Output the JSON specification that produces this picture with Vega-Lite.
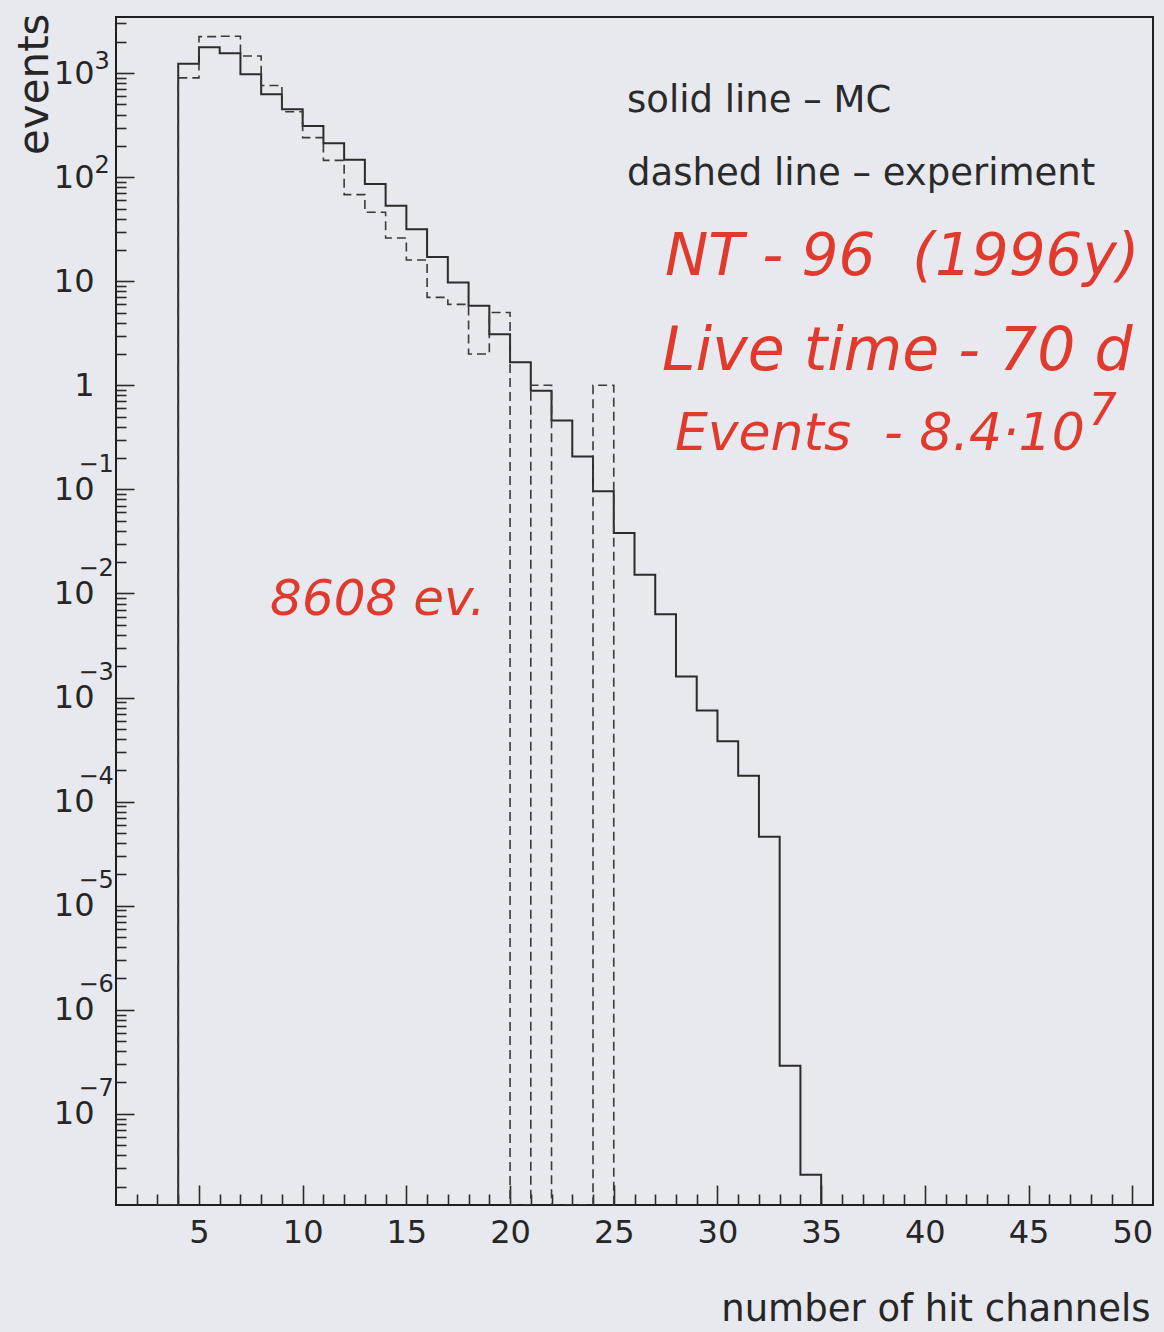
{
  "$schema": "https://vega.github.io/schema/vega-lite/v6.json",
  "width": 1037,
  "height": 1188,
  "autosize": {"type": "none"},
  "padding": {"left": 116, "top": 17, "right": 11, "bottom": 127},
  "background": "#e8e8ef",
  "config": {
    "view": {"stroke": "#1f1f1f", "strokeWidth": 2},
    "font": "DejaVu Sans",
    "axis": {
      "grid": false,
      "domain": false,
      "labelFont": "DejaVu Sans",
      "titleFont": "DejaVu Sans",
      "titleFontWeight": "normal",
      "labelColor": "#262626",
      "titleColor": "#262626",
      "tickColor": "#2a2a2a",
      "tickWidth": 1.6,
      "labelOverlap": false,
      "labelBound": false,
      "labelFlush": false
    }
  },
  "datasets": {
    "mc": [
      {"ch": 3, "events": 0},
      {"ch": 4, "events": 1230},
      {"ch": 5, "events": 1770},
      {"ch": 6, "events": 1550},
      {"ch": 7, "events": 975},
      {"ch": 8, "events": 625},
      {"ch": 9, "events": 450},
      {"ch": 10, "events": 310},
      {"ch": 11, "events": 212},
      {"ch": 12, "events": 147},
      {"ch": 13, "events": 86},
      {"ch": 14, "events": 53},
      {"ch": 15, "events": 31.6},
      {"ch": 16, "events": 17.1},
      {"ch": 17, "events": 9.7},
      {"ch": 18, "events": 5.8},
      {"ch": 19, "events": 3.1},
      {"ch": 20, "events": 1.67},
      {"ch": 21, "events": 0.885},
      {"ch": 22, "events": 0.458},
      {"ch": 23, "events": 0.207},
      {"ch": 24, "events": 0.096},
      {"ch": 25, "events": 0.038},
      {"ch": 26, "events": 0.0151},
      {"ch": 27, "events": 0.0063},
      {"ch": 28, "events": 0.00159},
      {"ch": 29, "events": 0.00075},
      {"ch": 30, "events": 0.00038},
      {"ch": 31, "events": 0.000177},
      {"ch": 32, "events": 0.000046},
      {"ch": 33, "events": 2.9e-7},
      {"ch": 34, "events": 2.6e-8},
      {"ch": 35, "events": 0}
    ],
    "experiment": [
      {"ch": 3, "events": 0},
      {"ch": 4, "events": 900},
      {"ch": 5, "events": 2240},
      {"ch": 6, "events": 2260},
      {"ch": 7, "events": 1460},
      {"ch": 8, "events": 760},
      {"ch": 9, "events": 425},
      {"ch": 10, "events": 240},
      {"ch": 11, "events": 145},
      {"ch": 12, "events": 68},
      {"ch": 13, "events": 46},
      {"ch": 14, "events": 26},
      {"ch": 15, "events": 16},
      {"ch": 16, "events": 7},
      {"ch": 17, "events": 6},
      {"ch": 18, "events": 2},
      {"ch": 19, "events": 5},
      {"ch": 20, "events": 0},
      {"ch": 21, "events": 1},
      {"ch": 22, "events": 0},
      {"ch": 23, "events": 0},
      {"ch": 24, "events": 1},
      {"ch": 25, "events": 0}
    ],
    "legendNotes": [
      {"ch": 25.64, "events": 423, "note": "solid line – MC"},
      {"ch": 25.64, "events": 84, "note": "dashed line – experiment"}
    ],
    "runNotes": [
      {"ch": 27.47, "events": 11.5, "note": "NT - 96\u00a0 (1996y)"},
      {"ch": 27.33, "events": 1.4, "note": "Live time - 70 d"},
      {"ch": 27.95, "events": 0.239, "note": "Events\u00a0 - 8.4·10"},
      {"ch": 47.9, "events": 0.42, "note": "7"}
    ],
    "countNote": [
      {"ch": 8.43, "events": 0.0062, "note": "8608 ev."}
    ]
  },
  "layer": [
    {
      "data": {"name": "mc"},
      "mark": {"type": "line", "interpolate": "step-after", "color": "#2b2b2b", "strokeWidth": 2, "clip": true},
      "encoding": {
        "x": {
          "field": "ch", "type": "quantitative",
          "scale": {"domain": [1, 51], "nice": false, "zero": false},
          "axis": {
            "orient": "bottom",
            "values": [5, 10, 15, 20, 25, 30, 35, 40, 45, 50],
            "ticks": false,
            "labelFontSize": 32,
            "labelPadding": 12,
            "labelBaseline": "top",
            "title": "number of hit channels",
            "titleFontSize": 37,
            "titleX": 1034,
            "titleY": 115,
            "titleAlign": "right",
            "titleBaseline": "alphabetic"
          }
        },
        "y": {
          "field": "events", "type": "quantitative",
          "scale": {"type": "log", "domain": [1.33e-8, 3460], "nice": false, "clamp": true},
          "axis": {
            "orient": "left",
            "values": [1e-7, 1e-6, 1e-5, 1e-4, 0.001, 0.01, 0.1, 1, 10, 100, 1000],
            "ticks": false,
            "labelExpr": "datum.value == 1 ? '1' : '10'",
            "labelAlign": "right",
            "labelBaseline": "middle",
            "labelPadding": 22,
            "labelFontSize": 32,
            "title": "events",
            "titleFontSize": 42,
            "titleAngle": -90,
            "titleX": -69,
            "titleY": -4,
            "titleAlign": "right",
            "titleBaseline": "alphabetic"
          }
        }
      }
    },
    {
      "data": {"name": "experiment"},
      "mark": {"type": "line", "interpolate": "step-after", "color": "#3a3a3a", "strokeWidth": 1.6, "strokeDash": [9, 5], "clip": true},
      "encoding": {
        "x": {
          "field": "ch", "type": "quantitative",
          "scale": {"domain": [1, 51], "nice": false, "zero": false},
          "axis": {
            "orient": "bottom",
            "values": [5, 10, 15, 20, 25, 30, 35, 40, 45, 50],
            "labels": false,
            "ticks": true,
            "tickSize": -20,
            "title": null
          }
        },
        "y": {
          "field": "events", "type": "quantitative",
          "scale": {"type": "log", "domain": [1.33e-8, 3460], "nice": false, "clamp": true},
          "axis": {
            "orient": "left",
            "values": [1e-7, 1e-6, 1e-5, 1e-4, 0.001, 0.01, 0.1, 100, 1000],
            "ticks": false,
            "labelExpr": "datum.value >= 100 ? '' + round(log(datum.value) / LN10) : '\u2212' + round(-log(datum.value) / LN10)",
            "labelAlign": "left",
            "labelBaseline": "middle",
            "labelPadding": {"condition": {"test": "datum.value < 1", "value": 38}, "value": 22},
            "labelOffset": {"condition": {"test": "datum.value < 1", "value": -25}, "value": -12},
            "labelFontSize": 24,
            "title": null
          }
        }
      }
    },
    {
      "data": {"name": "legendNotes"},
      "mark": {"type": "text", "align": "left", "baseline": "alphabetic", "font": "DejaVu Sans", "fontSize": 37, "color": "#2a2a2a"},
      "encoding": {
        "x": {
          "field": "ch", "type": "quantitative",
          "scale": {"domain": [1, 51], "nice": false, "zero": false},
          "axis": {
            "orient": "bottom",
            "values": [2, 3, 4, 6, 7, 8, 9, 11, 12, 13, 14, 16, 17, 18, 19, 21, 22, 23, 24, 26, 27, 28, 29, 31, 32, 33, 34, 36, 37, 38, 39, 41, 42, 43, 44, 46, 47, 48, 49],
            "labels": false,
            "ticks": true,
            "tickSize": -11,
            "title": null
          }
        },
        "y": {
          "field": "events", "type": "quantitative",
          "scale": {"type": "log", "domain": [1.33e-8, 3460], "nice": false, "clamp": true},
          "axis": {
            "orient": "left",
            "values": [1e-7, 1e-6, 1e-5, 1e-4, 0.001, 0.01, 0.1, 1, 10, 100, 1000],
            "labels": false,
            "ticks": true,
            "tickSize": -18,
            "title": null
          }
        },
        "text": {"field": "note"}
      }
    },
    {
      "data": {"name": "runNotes"},
      "mark": {"type": "text", "align": "left", "baseline": "alphabetic", "font": "DejaVu Sans", "fontStyle": "italic", "color": "#e03a2d"},
      "encoding": {
        "x": {"field": "ch", "type": "quantitative", "axis": null},
        "y": {
          "field": "events", "type": "quantitative",
          "scale": {"type": "log", "domain": [1.33e-8, 3460], "nice": false, "clamp": true},
          "axis": {
            "orient": "left",
            "values": [2e-8, 3e-8, 4e-8, 5e-8, 6e-8, 7e-8, 8e-8, 9e-8,
                       2e-7, 3e-7, 4e-7, 5e-7, 6e-7, 7e-7, 8e-7, 9e-7,
                       2e-6, 3e-6, 4e-6, 5e-6, 6e-6, 7e-6, 8e-6, 9e-6,
                       2e-5, 3e-5, 4e-5, 5e-5, 6e-5, 7e-5, 8e-5, 9e-5,
                       0.0002, 0.0003, 0.0004, 0.0005, 0.0006, 0.0007, 0.0008, 0.0009,
                       0.002, 0.003, 0.004, 0.005, 0.006, 0.007, 0.008, 0.009,
                       0.02, 0.03, 0.04, 0.05, 0.06, 0.07, 0.08, 0.09,
                       0.2, 0.3, 0.4, 0.5, 0.6, 0.7, 0.8, 0.9,
                       2, 3, 4, 5, 6, 7, 8, 9,
                       20, 30, 40, 50, 60, 70, 80, 90,
                       200, 300, 400, 500, 600, 700, 800, 900,
                       2000, 3000],
            "labels": false,
            "ticks": true,
            "tickSize": -10,
            "title": null
          }
        },
        "text": {"field": "note"},
        "size": {
          "condition": [
            {"test": "datum.note == '7'", "value": 44},
            {"test": "indexof(datum.note, 'Events') == 0", "value": 52},
            {"test": "indexof(datum.note, 'Live') == 0", "value": 60}
          ],
          "value": 58
        }
      }
    },
    {
      "data": {"name": "countNote"},
      "mark": {"type": "text", "align": "left", "baseline": "alphabetic", "font": "DejaVu Sans", "fontStyle": "italic", "fontSize": 50, "color": "#e03a2d"},
      "encoding": {
        "x": {"field": "ch", "type": "quantitative", "axis": null},
        "y": {"field": "events", "type": "quantitative", "axis": null},
        "text": {"field": "note"}
      }
    }
  ],
  "resolve": {"axis": {"x": "independent", "y": "independent"}}
}
